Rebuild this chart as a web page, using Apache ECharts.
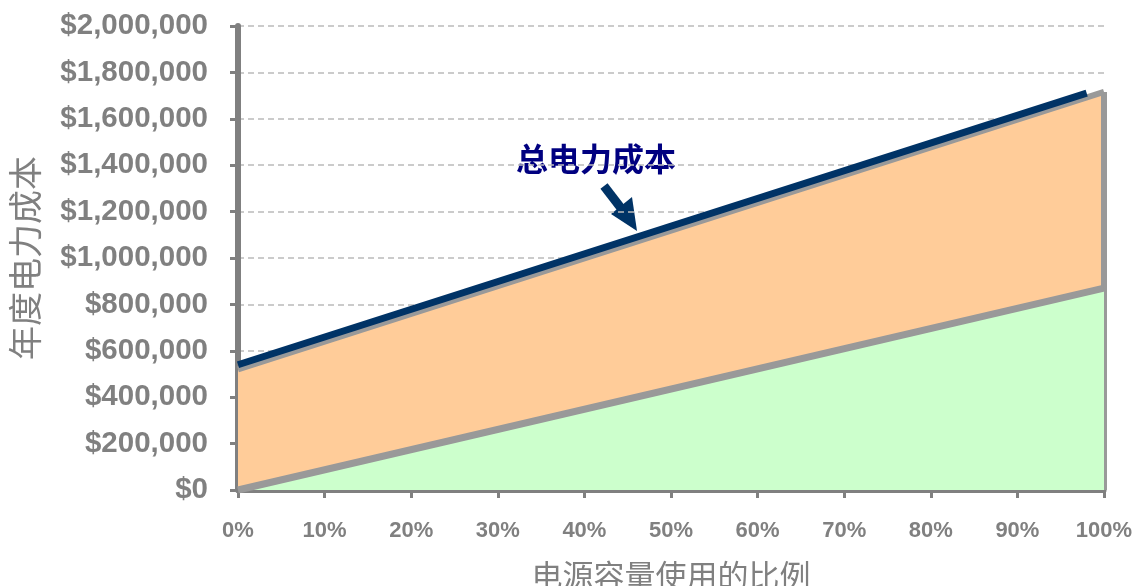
<!DOCTYPE html>
<html>
<head>
<meta charset="utf-8">
<script src="https://cdn.jsdelivr.net/npm/echarts@6/dist/echarts.min.js"></script>
<style>
  html, body { margin: 0; padding: 0; background: #fff; }
  #chart { width: 1134px; height: 586px; }
</style>
</head>
<body>
<div id="chart"></div>
<script>
// 电源容量使用的比例 (%)
const loadPct = [0, 100];
// 物理基础设施用电 (绿色区域顶边)
const infraCost = [0, 870000];
// 总电力成本 (橙色区域顶边)
const totalCost = [520000, 1716000];
// 深蓝色总成本线 (终点略早于 100%)
const totalLinePct = [0, 98];
const totalLineCost = [540000, 1711000];

const yMax = 2000000;
const yStep = 200000;

const FONT = '"Liberation Sans", Arial, "Noto Sans CJK SC", sans-serif';
const CJK = '"Noto Sans CJK SC", "Liberation Sans", sans-serif';
const GRAY = '#808080';

const chart = echarts.init(document.getElementById('chart'));

function pairs(xs, ys) {
  return xs.map((x, i) => [x, ys[i]]);
}

const option = {
  animation: false,
  grid: { left: 238, right: 30, top: 26, bottom: 96, outerBoundsMode: 'none', containLabel: false },
  xAxis: {
    type: 'value',
    min: 0,
    max: 100,
    interval: 10,
    name: '电源容量使用的比例',
    nameLocation: 'middle',
    nameGap: 70,
    nameTextStyle: { color: GRAY, fontSize: 31, fontFamily: CJK, verticalAlign: 'top' },
    axisLine: { onZero: false, lineStyle: { color: GRAY, width: 5 } },
    axisTick: { show: true, length: 8, lineStyle: { color: GRAY, width: 3 } },
    axisLabel: {
      margin: 30,
      color: GRAY,
      fontSize: 22,
      fontWeight: 'bold',
      fontFamily: FONT,
      formatter: '{value}%'
    },
    splitLine: { show: false }
  },
  yAxis: {
    type: 'value',
    min: 0,
    max: yMax,
    interval: yStep,
    name: '年度电力成本',
    nameLocation: 'middle',
    nameGap: 196,
    nameTextStyle: { color: GRAY, fontSize: 34, fontFamily: CJK },
    axisLine: { show: true, lineStyle: { color: GRAY, width: 6 } },
    axisTick: { show: true, length: 8, lineStyle: { color: GRAY, width: 3 } },
    axisLabel: {
      margin: 30,
      color: GRAY,
      fontSize: 29.5,
      fontWeight: 'bold',
      fontFamily: FONT,
      formatter: v => '$' + v.toLocaleString('en-US')
    },
    splitLine: { show: true, lineStyle: { color: '#bbbbbb', width: 1.5, type: [6, 4] } }
  },
  series: [
    {
      name: 'IT 负载用电',
      type: 'line',
      data: pairs(loadPct, totalCost),
      symbol: 'none',
      z: 2,
      lineStyle: { color: '#999999', width: 6 },
      areaStyle: { color: '#FFCC99', opacity: 1 }
    },
    {
      name: '右侧边框',
      type: 'line',
      data: [[loadPct[1], 0], [loadPct[1], totalCost[1]]],
      symbol: 'none',
      z: 3,
      lineStyle: { color: '#999999', width: 6 }
    },
    {
      name: '物理基础设施用电',
      type: 'line',
      data: pairs(loadPct, infraCost),
      symbol: 'none',
      z: 4,
      lineStyle: { color: '#999999', width: 7 },
      areaStyle: { color: '#CCFFCC', opacity: 1 }
    },
    {
      name: '总电力成本',
      type: 'line',
      data: pairs(totalLinePct, totalLineCost),
      symbol: 'none',
      z: 5,
      lineStyle: { color: '#003366', width: 7 }
    }
  ],
  graphic: [
    {
      type: 'text',
      left: 516, top: 143,
      style: { text: '总电力成本', fill: '#000080', font: 'bold 32px ' + CJK }
    },
    {
      type: 'line',
      shape: { x1: 604, y1: 186, x2: 624, y2: 212 },
      style: { stroke: '#003366', lineWidth: 9 }
    },
    {
      type: 'polygon',
      shape: { points: [[611, 214], [632, 197], [637, 231]] },
      style: { fill: '#003366' }
    },
    {
      type: 'text',
      left: 666, top: 302,
      style: { text: 'IT 负载用电', fill: GRAY, font: 'bold 32px ' + CJK }
    },
    {
      type: 'text',
      left: 790, top: 423,
      style: { text: '物理基础设施用电', fill: GRAY, font: 'bold 32px ' + CJK }
    }
  ]
};

chart.setOption(option);
window.addEventListener('resize', () => chart.resize());
</script>
</body>
</html>
